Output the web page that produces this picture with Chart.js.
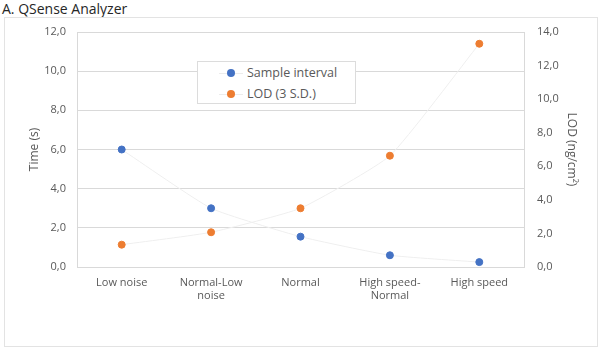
<!DOCTYPE html>
<html lang="en">
<head>
<meta charset="UTF-8">
<title>QSense Analyzer</title>
<script src="https://cdn.jsdelivr.net/npm/chart.js"></script>
<style>
    body {
        margin: 0;
        width: 600px;
        height: 350px;
        position: relative;
        background: #fff;
        font-family: "Open Sans", Arial, sans-serif;
        overflow: hidden;
    }

    .titulo {
        position: absolute;
        left: 2px;
        top: -1px;
        font-size: 14px;
        color: #262626;
    }

    .marco {
        position: absolute;
        left: 4px;
        top: 17px;
        width: 592px;
        height: 328px;
        border: 1px solid #e3e3e3;
    }

    #wrap {
        position: absolute;
        left: 0;
        top: 0;
        width: 600px;
        height: 350px;
    }

    .leyenda {
        position: absolute;
        left: 197px;
        top: 61px;
        width: 157px;
        height: 41px;
        border: 1px solid #dcdcdc;
        background: #fff;
        font-size: 12.5px;
        color: #595959;
    }

    .item {
        position: absolute;
        left: 21px;
        height: 16px;
        line-height: 16px;
    }

    .item span {
        display: inline-block;
        position: relative;
        width: 24px;
        height: 8px;
        margin-right: 4px;
    }

    .item span::before {
        content: "";
        position: absolute;
        left: 0;
        right: 0;
        top: 4px;
        height: 1px;
        background: #ececec;
    }

    .item span i {
        position: absolute;
        left: 8px;
        top: 0;
        width: 8px;
        height: 8px;
        border-radius: 50%;
    }
</style>
</head>
<body>

<div class="titulo">A. QSense Analyzer</div>
<div class="marco"></div>

<div id="wrap"><canvas id="grafico" width="600" height="350"></canvas></div>

<div class="leyenda">
    <div class="item" style="top:3px"><span><i style="background:#4472C4"></i></span>Sample interval</div>
    <div class="item" style="top:24px"><span><i style="background:#ED7D31"></i></span>LOD (3 S.D.)</div>
</div>

<script>
    const categorias = [['Low noise'], ['Normal-Low', 'noise'], ['Normal'], ['High speed-', 'Normal'], ['High speed']];
    const intervalo = [6.0, 3.0, 1.55, 0.6, 0.25];   // Time (s)
    const lod = [1.33, 2.07, 3.5, 6.63, 13.3];      // ng/cm2
    const ticksTiempo = [0, 2, 4, 6, 8, 10, 12];
    const ticksLod = [0, 2, 4, 6, 8, 10, 12, 14];

    const gris = '#595959';
    const fuente = { family: '"Open Sans", Arial, sans-serif', size: 11 };
    const coma = v => Number(v).toFixed(1).replace('.', ',');

    // borde del area de trazado
    const bordeArea = {
        id: 'bordeArea',
        afterDraw(chart) {
            const a = chart.chartArea;
            const c = chart.ctx;
            c.save();
            c.strokeStyle = '#d9d9d9';
            c.lineWidth = 1;
            c.strokeRect(Math.round(a.left) + 0.5, Math.round(a.top) + 0.5, Math.round(a.right - a.left), Math.round(a.bottom - a.top));
            c.restore();
        }
    };

    const ctx = document.getElementById('grafico').getContext('2d');

    new Chart(ctx, {
        type: 'line',
        data: {
            labels: categorias,
            datasets: [{
                label: 'Sample interval',
                data: intervalo,
                yAxisID: 'y',
                borderColor: '#efefef',
                borderWidth: 1,
                tension: 0.15,
                pointBackgroundColor: '#4472C4',
                pointBorderColor: '#4472C4',
                pointRadius: 3.5,
                order: 1
            }, {
                label: 'LOD (3 S.D.)',
                data: lod,
                yAxisID: 'y2',
                borderColor: '#efefef',
                borderWidth: 1,
                tension: 0.15,
                pointBackgroundColor: '#ED7D31',
                pointBorderColor: '#ED7D31',
                pointRadius: 3.5,
                order: 2
            }]
        },
        options: {
            responsive: false,
            animation: false,
            layout: { padding: { top: 32, left: 0, right: 0, bottom: 0 } },
            plugins: {
                legend: { display: false },
                tooltip: { enabled: false }
            },
            scales: {
                x: {
                    offset: true,
                    grid: { display: false, drawTicks: false },
                    border: { color: '#d9d9d9' },
                    ticks: { color: gris, font: fuente, padding: 9, maxRotation: 0 },
                    afterFit: s => { s.height = 83; }
                },
                y: {
                    position: 'left',
                    min: 0,
                    max: 12,
                    afterBuildTicks: s => { s.ticks = ticksTiempo.map(v => ({ value: v })); },
                    grid: { color: '#d9d9d9', drawTicks: false },
                    border: { color: '#d9d9d9' },
                    ticks: { color: gris, font: fuente, padding: 11, callback: coma },
                    title: { display: true, text: 'Time (s)', color: gris, font: { family: fuente.family, size: 12 }, padding: { top: 27, bottom: 0 } },
                    afterFit: s => { s.width = 77; }
                },
                y2: {
                    position: 'right',
                    min: 0,
                    max: 14,
                    afterBuildTicks: s => { s.ticks = ticksLod.map(v => ({ value: v })); },
                    grid: { display: false, drawTicks: false },
                    border: { color: '#d9d9d9' },
                    ticks: { color: gris, font: fuente, padding: 13, callback: coma },
                    title: { display: true, text: 'LOD (ng/cm²)', color: gris, font: { family: fuente.family, size: 12 }, padding: { top: 21, bottom: 0 } },
                    afterFit: s => { s.width = 76; }
                }
            }
        },
        plugins: [bordeArea]
    });
</script>

</body>
</html>
